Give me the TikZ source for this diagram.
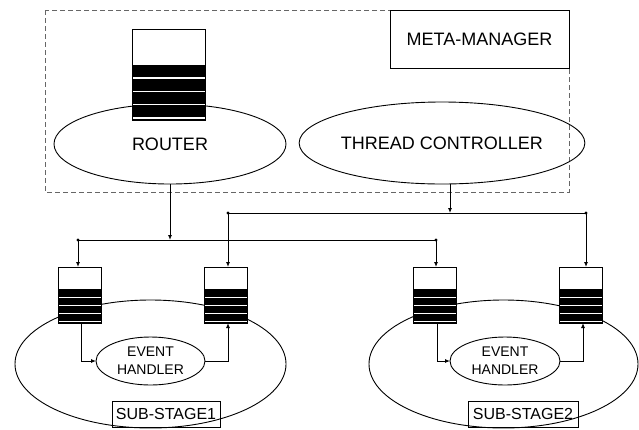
\documentclass[tikz,border=0pt]{standalone}
\usepackage{fontspec}
\setmainfont{Liberation Sans}
\usetikzlibrary{shapes.geometric,arrows.meta,calc}

\tikzset{
  every node/.style={inner sep=0pt, outer sep=0pt},
  ln/.style={line width=0.9pt},
  oval/.style={ellipse, draw, line width=0.9pt},
  labelbox/.style={rectangle, draw, line width=0.9pt},
  arr/.style={line width=0.9pt, -{Latex[length=5pt,width=4pt]}},
  bigtxt/.style={font=\fontsize{18}{21}\selectfont},
  midtxt/.style={font=\fontsize{16}{19}\selectfont},
  smalltxt/.style={font=\fontsize{14}{18}\selectfont, align=center},
  % a message queue: white top, four black slots separated by thin white lines
  queue/.style={rectangle, draw, fill=white, line width=0.9pt,
    path picture={
      \fill[black] (path picture bounding box.south west) rectangle
        ($(path picture bounding box.north east)!0.4!(path picture bounding box.south east)$);
      \foreach \f in {0.025,0.17,0.315,0.46}
        \draw[white, line width=#1]
          ($(path picture bounding box.south west)!\f!(path picture bounding box.north west)$) --
          ($(path picture bounding box.south east)!\f!(path picture bounding box.north east)$);
    }},
  queue/.default=1pt,
  smallq/.style={queue, minimum width=43pt, minimum height=56pt},
}

\begin{document}
\begin{tikzpicture}[x=1pt, y=-1pt]
\useasboundingbox (0,0) rectangle (639,429);

% meta-manager region
\draw[gray!80!black, line width=0.8pt, dash pattern=on 5pt off 3pt] (45,10) rectangle (569,192);
\node[labelbox, bigtxt, minimum width=179pt, minimum height=58pt] (meta) at (479.5,39) {META-MANAGER};

\node[oval, bigtxt, minimum width=232pt, minimum height=80pt] (router) at (170,144) {ROUTER};
\node[queue=1.6pt, minimum width=73pt, minimum height=91pt] (rq) at (168.5,74.5) {};
\node[oval, bigtxt, minimum width=220pt, minimum height=82pt] (tc) at (442,143) {THREAD CONTROLLER};

% sub-stages
\node[oval, minimum width=271pt, minimum height=128pt] (ss1) at (150.5,364) {};
\node[oval, minimum width=269pt, minimum height=128pt] (ss2) at (503.5,364) {};

\node[smallq] (q1) at (79.5,295) {};
\node[smallq] (q2) at (225.5,295) {};
\node[smallq] (q3) at (435,295) {};
\node[smallq] (q4) at (581,295) {};

\node[oval, smalltxt, minimum width=109pt, minimum height=48pt] (eh1) at (150.5,361) {EVENT\\HANDLER};
\node[oval, smalltxt, minimum width=110pt, minimum height=48pt] (eh2) at (505,361) {EVENT\\HANDLER};

\node[labelbox, midtxt, minimum width=108pt, minimum height=26pt] (lab1) at (166,414) {SUB-STAGE1};
\node[labelbox, midtxt, minimum width=110pt, minimum height=26pt] (lab2) at (523,414) {SUB-STAGE2};

% distribution buses
\coordinate (d1) at (78,240);
\coordinate (d2) at (436,240);
\coordinate (d3) at (228,213);
\coordinate (d4) at (586,213);
\coordinate (tcout) at ($(tc.south)+(8,0)$);

\draw[arr] (router.south) -- (router.south |- d1);
\draw[ln] (d1) -- (d2);
\draw[arr] (d1) -- (d1 |- q1.north);
\draw[arr] (d2) -- (d2 |- q3.north);

\draw[arr] (tcout) -- (tcout |- d3);
\draw[ln] (d3) -- (d4);
\draw[arr] (d3) -- (d3 |- q2.north);
\draw[arr] (d4) -- (d4 |- q4.north);

\foreach \d in {d1,d2,d3,d4} \fill (\d) circle (1.6pt);

% queue -> event handler -> queue
\draw[arr] ($(q1.south)+(1.5,0)$) |- (eh1.west);
\draw[arr] (eh1.east) -| ($(q2.south)+(2.5,0)$);
\draw[arr] ($(q3.south)+(2,0)$) |- (eh2.west);
\draw[arr] (eh2.east) -| ($(q4.south)+(2,0)$);
\end{tikzpicture}
\end{document}
